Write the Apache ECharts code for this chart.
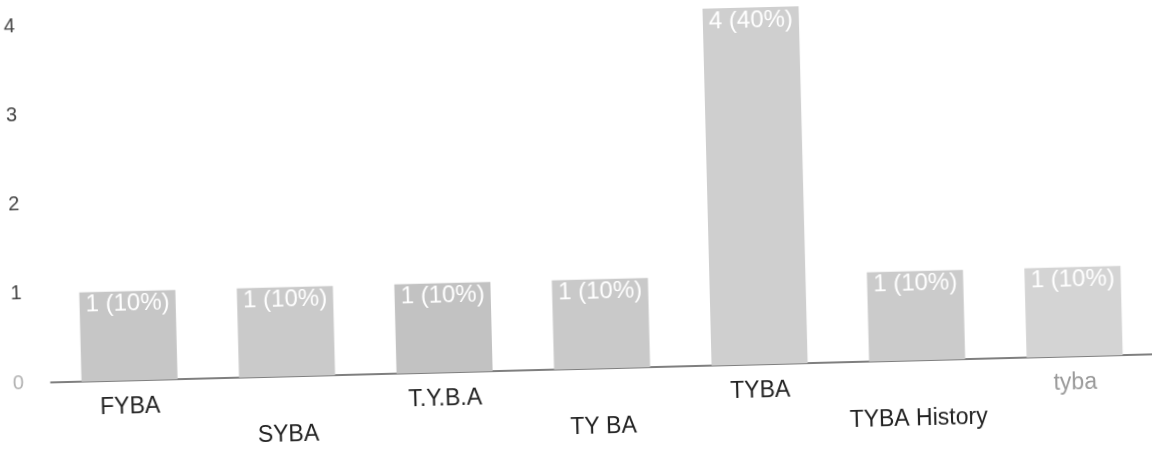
<!DOCTYPE html>
<html>
<head>
<meta charset="utf-8">
<script src="https://cdn.jsdelivr.net/npm/echarts@6/dist/echarts.min.js"></script>
<style>
  html, body { margin: 0; padding: 0; background: #fff; overflow: hidden; }
  #chart { width: 1152px; height: 455px; transform: rotate(-1.46deg); transform-origin: 576px 227px; }
</style>
</head>
<body>
<div id="chart"></div>
<script>
const categories = ['FYBA', 'SYBA', 'T.Y.B.A', 'TY BA', 'TYBA', 'TYBA History', 'tyba'];
const counts = [1, 1, 1, 1, 4, 1, 1];
const yTicks = [0, 1, 2, 3, 4];

const total = counts.reduce((a, b) => a + b, 0);
const barColors = ['#c6c6c6', '#cacaca', '#c2c2c2', '#c9c9c9', '#cfcfcf', '#cbcbcb', '#d4d4d4'];

const chart = echarts.init(document.getElementById('chart'), null, { renderer: 'canvas' });
chart.setOption({
  backgroundColor: '#ffffff',
  animation: false,
  grid: { left: 47, right: 2, top: 12, bottom: 86, containLabel: false },
  xAxis: {
    type: 'category',
    data: categories,
    axisLine: { show: true, lineStyle: { color: '#555', width: 1.5 } },
    axisTick: { show: false },
    axisLabel: {
      interval: 0,
      margin: 11,
      fontFamily: 'Liberation Sans, Arial, sans-serif',
      fontSize: 23,
      lineHeight: 32,
      color: (v, i) => (v === 'tyba' ? '#9a9a9a' : '#222'),
      formatter: (v, i) => (i % 2 === 1 ? '\n' + v : v)
    }
  },
  yAxis: {
    type: 'value',
    min: yTicks[0],
    max: yTicks[yTicks.length - 1],
    interval: 1,
    axisLine: { show: false },
    axisTick: { show: false },
    splitLine: { show: false },
    axisLabel: {
      margin: 27,
      fontFamily: 'Liberation Sans, Arial, sans-serif',
      fontSize: 20,
      color: (v) => (Number(v) === 0 ? '#b0b0b0' : '#444')
    }
  },
  series: [{
    type: 'bar',
    barWidth: '61%',
    data: counts.map((v, i) => ({ value: v, itemStyle: { color: barColors[i] } })),
    label: {
      show: true,
      position: 'insideTop',
      distance: 1,
      color: '#ffffff',
      fontFamily: 'Liberation Sans, Arial, sans-serif',
      fontSize: 24,
      formatter: (p) => p.value + ' (' + Math.round(p.value / total * 100) + '%)'
    }
  }]
});
</script>
</body>
</html>
